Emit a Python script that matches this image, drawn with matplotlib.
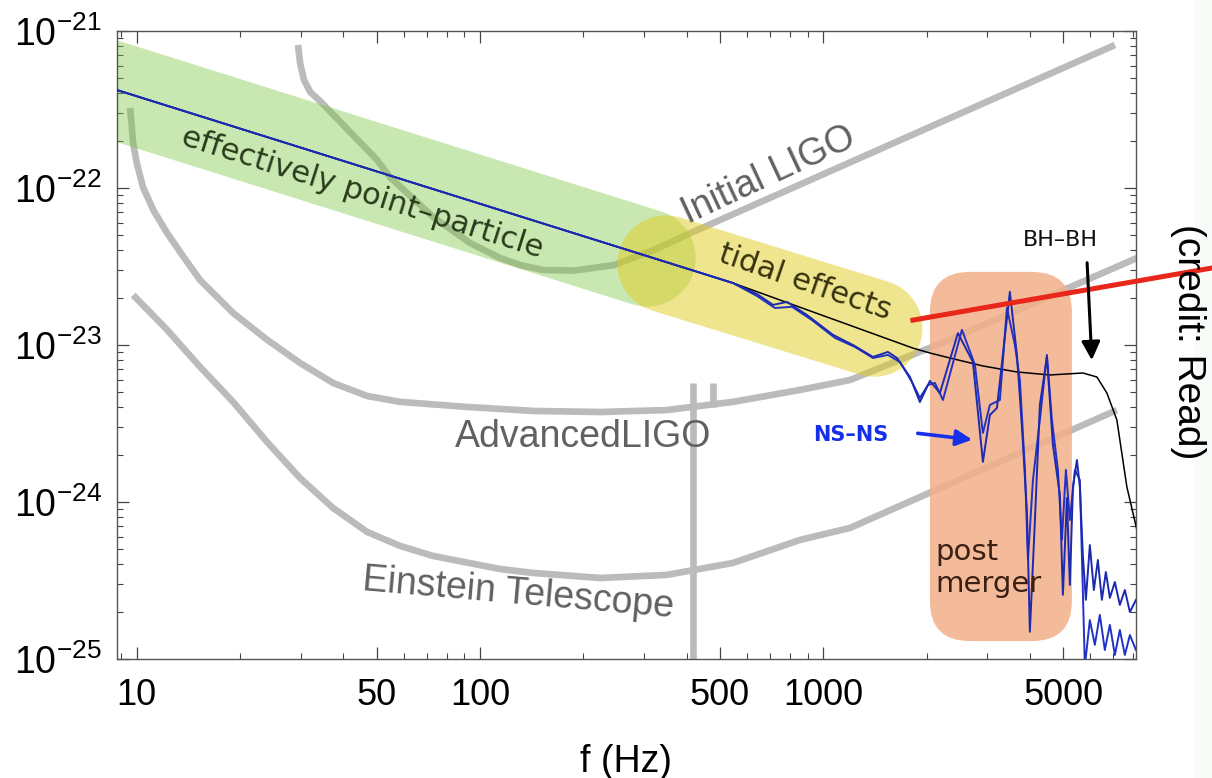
import matplotlib
matplotlib.use('Agg')
import matplotlib.pyplot as plt
from matplotlib.patches import FancyBboxPatch, Rectangle
from matplotlib.ticker import LogLocator, NullFormatter
from matplotlib.transforms import IdentityTransform

plt.rcParams['font.family'] = ['Liberation Sans', 'DejaVu Sans']
plt.rcParams['mathtext.fontset'] = 'custom'
plt.rcParams['mathtext.rm'] = 'Liberation Sans'
plt.rcParams['mathtext.it'] = 'Liberation Sans:italic'

# ---- detector noise curves (f in Hz, strain) ----
init_ligo_f = [29.5, 29.9, 30.7, 32.0, 34.4, 50.1, 54.7, 73.0, 93.5, 114.4, 130.8, 152.6, 189, 246, 321, 417, 7073]
init_ligo_h = [8.14e-22, 6.25e-22, 4.87e-22, 4.09e-22, 3.53e-22, 1.51e-22, 1.17e-22, 6.54e-23, 4.46e-23, 3.58e-23,
               3.23e-23, 3.00e-23, 2.98e-23, 3.23e-23, 4.03e-23, 5.24e-23, 8.14e-22]

adv_ligo_f = [9.56, 9.67, 9.76, 10.0, 10.43, 11.17, 12.25, 13.67, 15.29, 19.08, 23.96, 29.9, 37.3, 46.9, 58.5, 91.6,
              143, 224, 350, 546, 855, 1196, 2339, 8200]
adv_ligo_h = [3.23e-22, 2.46e-22, 1.93e-22, 1.44e-22, 1.01e-22, 7.24e-23, 5.17e-23, 3.65e-23, 2.59e-23, 1.60e-23,
              1.08e-23, 7.68e-24, 5.73e-24, 4.73e-24, 4.34e-24, 4.03e-24, 3.80e-24, 3.74e-24, 3.85e-24, 4.34e-24,
              5.17e-24, 5.98e-24, 1.08e-23, 3.58e-23]

et_f = [9.76, 12.25, 15.29, 19.08, 23.96, 29.9, 37.3, 46.9, 58.5, 73.0, 114.4, 143, 224, 350, 546, 855, 1196, 7168]
et_h = [2.08e-23, 1.25e-23, 7.24e-24, 4.34e-24, 2.41e-24, 1.42e-24, 9.16e-25, 6.44e-25, 5.25e-25, 4.53e-25, 3.74e-25,
        3.53e-25, 3.28e-25, 3.43e-25, 4.09e-25, 5.73e-25, 6.83e-25, 3.85e-24]

# narrow resonance spikes
spike_f = [418, 477]
spike_top = [5.70e-24, 5.70e-24]
spike_bottom = [9.0e-26, 4.0e-24]

# ---- signals ----
bh_f = [8.74, 546, 1825, 2045, 2339, 2918, 3666, 4573, 5705, 6270, 6704, 7168, 7664, 8200]
bh_h = [4.21e-22, 2.48e-23, 9.55e-24, 8.89e-24, 8.26e-24, 7.35e-24, 6.73e-24, 6.44e-24, 6.63e-24, 6.25e-24,
        4.94e-24, 3.33e-24, 1.25e-24, 6.63e-25]

ns_a_f = [8.74, 546, 641, 714, 784, 897, 1067, 1220, 1396, 1543, 1640, 1789, 1912, 2045, 2187, 2468, 2729, 2918,
          3058, 3206, 3497, 3666, 3792, 3921, 3999, 4137, 4276, 4483, 4667, 4890, 4991, 5126, 5229, 5339, 5483,
          5592, 5705, 5822, 5979, 6143, 6310, 6482, 6658, 6839, 7072, 7313, 7562, 7823, 8148]
ns_a_h = [4.21e-22, 2.48e-23, 2.11e-23, 1.80e-23, 1.88e-23, 1.55e-23, 1.16e-23, 1.00e-23, 8.39e-24, 9.03e-24,
          8.26e-24, 6.25e-24, 4.33e-24, 5.90e-24, 4.94e-24, 1.19e-23, 7.79e-24, 1.80e-24, 3.58e-24, 3.97e-24,
          2.18e-23, 8.64e-24, 3.00e-24, 8.64e-25, 1.49e-25, 7.68e-25, 4.15e-24, 8.39e-24, 2.31e-24, 1.11e-24,
          2.56e-25, 1.06e-24, 2.96e-25, 1.25e-24, 1.85e-24, 1.25e-24, 4.60e-25, 2.38e-25, 5.32e-25, 2.75e-25,
          4.27e-25, 2.38e-25, 3.58e-25, 2.45e-25, 3.09e-25, 2.21e-25, 2.75e-25, 1.99e-25, 2.38e-25]

ns_b_f = [8.74, 546, 641, 723, 811, 927, 1081, 1237, 1396, 1543, 1673, 1813, 1912, 2018, 2115, 2232, 2535, 2766,
          2918, 3058, 3270, 3428, 3617, 3740, 3869, 3948, 4082, 4276, 4483, 4636, 4826, 4957, 5093, 5229, 5410,
          5592, 5783, 5979, 6184, 6394, 6613, 6839, 7072, 7313, 7562, 7823, 8148]
ns_b_h = [4.21e-22, 2.48e-23, 2.05e-23, 1.72e-23, 1.75e-23, 1.44e-23, 1.11e-23, 9.71e-24, 8.26e-24, 8.64e-24,
          7.79e-24, 5.81e-24, 4.60e-24, 5.56e-24, 5.73e-24, 4.46e-24, 1.25e-23, 7.46e-24, 2.75e-24, 4.15e-24,
          4.46e-24, 1.72e-23, 1.00e-23, 5.98e-24, 1.60e-24, 4.27e-25, 1.38e-24, 3.33e-24, 8.64e-24, 3.33e-24,
          1.60e-24, 5.73e-25, 1.60e-24, 7.68e-25, 1.60e-24, 1.38e-24, 9.0e-26, 1.77e-25, 1.23e-25, 1.91e-25,
          1.14e-25, 1.65e-25, 1.06e-25, 1.53e-25, 1.06e-25, 1.42e-25, 1.14e-25]

red_f = [1825, 13550]
red_h = [1.44e-23, 3.09e-23]

# ---- shaded regions ----
green_band_f = [5.98, 307]
green_band_h = [5.37e-22, 3.58e-23]
yellow_band_f = [348, 1405]
yellow_band_h = [3.28e-23, 1.28e-23]
box_f = [2045, 5302]
box_h = [1.30e-25, 2.92e-23]

x_ticks = [10, 50, 100, 500, 1000, 5000]
x_tick_labels = ['10', '50', '100', '500', '1000', '5000']
y_ticks = [1e-25, 1e-24, 1e-23, 1e-22, 1e-21]
y_tick_labels = [r'$10^{-25}$', r'$10^{-24}$', r'$10^{-23}$', r'$10^{-22}$', r'$10^{-21}$']

gray = '#bbbbbb'
label_gray = '#616161'

fig = plt.figure(figsize=(12.12, 7.78), dpi=100)
fig.patches.append(Rectangle((0.986, 0), 0.014, 1, transform=fig.transFigure, color='#f8fcf8', zorder=-1))
ax = fig.add_axes([0.0963, 0.1530, 0.8410, 0.8072])
ax.set_xscale('log')
ax.set_yscale('log')
ax.set_xlim(8.74, 8150)
ax.set_ylim(1e-25, 1e-21)

# detector curves
for fx, hy in [(init_ligo_f, init_ligo_h), (adv_ligo_f, adv_ligo_h), (et_f, et_h)]:
    ax.plot(fx, hy, color=gray, lw=4.8, solid_capstyle='butt', solid_joinstyle='round', zorder=1)
ax.vlines(spike_f, spike_bottom, spike_top, color=gray, lw=4.8, zorder=1)

# regions
ax.plot(green_band_f, green_band_h, color=(0.47, 0.78, 0.24), alpha=0.4, lw=70,
        solid_capstyle='round', zorder=2)
ax.plot(yellow_band_f, yellow_band_h, color=(0.88, 0.80, 0.12), alpha=0.5, lw=70,
        solid_capstyle='round', zorder=2)

(x0, y0) = ax.transData.transform((box_f[0], box_h[0]))
(x1, y1) = ax.transData.transform((box_f[1], box_h[1]))
ax.add_patch(FancyBboxPatch((x0, y0), x1 - x0, y1 - y0, boxstyle='round,pad=0,rounding_size=40',
                            transform=IdentityTransform(), facecolor='#f3b08a', edgecolor='none',
                            alpha=0.85, zorder=2))

# signals
ax.plot(bh_f, bh_h, color='black', lw=1.1, zorder=3)
ax.plot(ns_b_f, ns_b_h, color='#2232c4', lw=1.4, zorder=4)
ax.plot(ns_a_f, ns_a_h, color='#1c2ab0', lw=1.4, zorder=4)
ax.plot(red_f, red_h, color='#e8271a', lw=3.6, zorder=5, clip_on=False)

# labels inside the plot
ax.text(695, 1.21e-22, 'Initial LIGO', rotation=25, fontsize=27, color=label_gray,
        ha='center', va='center', zorder=6)
ax.text(199.5, 2.59e-24, 'AdvancedLIGO', fontsize=27, color=label_gray,
        ha='center', va='center', zorder=6)
ax.text(129, 2.59e-25, 'Einstein Telescope', rotation=-5, fontsize=27, color=label_gray,
        ha='center', va='center', zorder=6)
ax.text(45.3, 9.29e-23, 'effectively point\u2013particle', rotation=-17.5, fontsize=22,
        family='DejaVu Sans', color='#2a3a1c', ha='center', va='center', zorder=6)
ax.text(885, 2.52e-23, 'tidal effects', rotation=-19, fontsize=22, family='DejaVu Sans',
        color='#36320f', ha='center', va='center', zorder=6)
ax.text(2116, 3.80e-25, 'post\nmerger', fontsize=21, family='DejaVu Sans', color='#3a2012',
        ha='left', va='center', linespacing=1.15, zorder=6)
ax.text(4891, 4.66e-23, 'BH\u2013BH', fontsize=16, family='DejaVu Sans', color='#111111',
        ha='center', va='center', zorder=6)
ax.text(1204, 2.67e-24, 'NS\u2013NS', fontsize=15, family='DejaVu Sans', fontweight='bold',
        color='#1530e8', ha='center', va='center', zorder=6)
ax.annotate('', xy=(6065, 7.68e-24), xytext=(5865, 3.48e-23),
            arrowprops=dict(arrowstyle='-|>', color='black', lw=2.2, mutation_scale=28), zorder=6)
ax.annotate('', xy=(2767, 2.48e-24), xytext=(1850, 2.75e-24),
            arrowprops=dict(arrowstyle='-|>', color='#1530e8', lw=2.6, mutation_scale=24), zorder=6)

fig.text(0.980, 0.5604, '(credit: Read)', rotation=-90, fontsize=28, color='black',
         ha='center', va='center')

# axes styling
ax.set_xticks(x_ticks)
ax.set_xticklabels(x_tick_labels)
ax.xaxis.set_minor_locator(LogLocator(base=10, subs=range(2, 10), numticks=20))
ax.xaxis.set_minor_formatter(NullFormatter())
ax.set_yticks(y_ticks)
ax.set_yticklabels(y_tick_labels)
ax.yaxis.set_minor_locator(LogLocator(base=10, subs=range(2, 10), numticks=20))
ax.yaxis.set_minor_formatter(NullFormatter())
ax.tick_params(which='both', direction='in', top=True, right=True, color='#444444')
ax.tick_params(which='major', length=8.6, width=0.9)
ax.tick_params(which='minor', length=4, width=0.8)
ax.tick_params(axis='x', which='major', labelsize=26, pad=14)
ax.tick_params(axis='y', which='major', labelsize=27, pad=11)
for s in ax.spines.values():
    s.set_color('#555555')
    s.set_linewidth(1.0)
ax.set_xlabel('f (Hz)', fontsize=27, labelpad=22)

fig.savefig('out.png', dpi=100)
